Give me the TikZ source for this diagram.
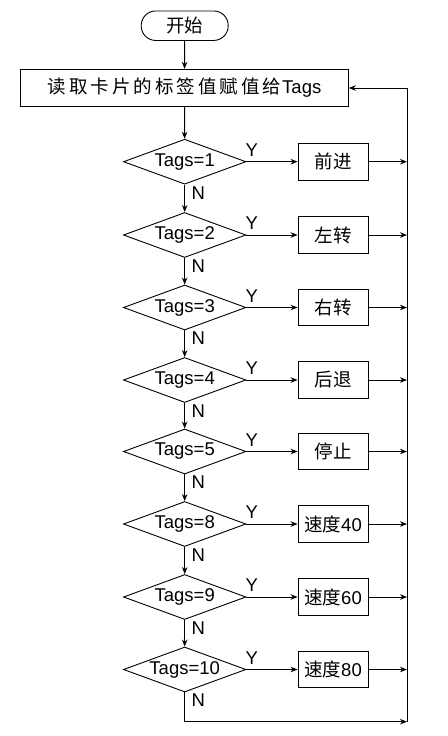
\documentclass[tikz,border=0pt]{standalone}
\usepackage{fontspec}
\setmainfont{Liberation Sans}
\newfontfamily\cjk{Noto Sans CJK SC}
\usetikzlibrary{shapes.geometric,arrows.meta}
\begin{document}
\begin{tikzpicture}[x=1pt,y=-1pt,
  line width=0.9pt,
  every node/.style={font=\fontsize{18.5}{21}\selectfont},
  arr/.style={-{Stealth[length=7pt,width=5.5pt]}},
  term/.style={draw,rounded corners=14.5pt,minimum width=87pt,minimum height=29.5pt,inner sep=0pt},
  proc/.style={draw,minimum width=327.6pt,minimum height=37.4pt,inner sep=0pt},
  dec/.style={draw,diamond,aspect=2.7,minimum width=122.5pt,minimum height=45pt,inner sep=0pt},
  act/.style={draw,minimum width=70pt,minimum height=36.6pt,inner sep=0pt},
  lab/.style={inner sep=0pt}]
\useasboundingbox (0,0) rectangle (447,736);
\node[term] (start) at (184.7,25.7) {\cjk 开始};
\node[proc] (read) at (184.5,88) {\cjk 读\hspace{3pt}取\hspace{3pt}卡\hspace{3pt}片\hspace{3pt}的\hspace{3pt}标\hspace{3pt}签\hspace{3pt}值\hspace{3pt}赋\hspace{3pt}值\hspace{3pt}给\hspace{1pt}\rmfamily Tags};
\draw[arr] (start) -- (read);
\foreach \y/\t/\b [count=\i] in {161.7/Tags=1/{\cjk 前进},235/Tags=2/{\cjk 左转},307.5/Tags=3/{\cjk 右转},380/Tags=4/{\cjk 后退},451.5/Tags=5/{\cjk 停止},524/Tags=8/{{\cjk 速度}40},597/Tags=9/{{\cjk 速度}60},669.5/Tags=10/{{\cjk 速度}80}}{
  \node[dec] (d\i) at (184.7,\y) {\t};
  \node[act] (b\i) at (333,\y) {\b};
  \coordinate (r\i) at (407,\y);
  \node[lab] (y\i) at ([shift={(5.5,-11.7)}]d\i.east) {Y};
  \node[lab] (n\i) at ([shift={(13.7,8)}]d\i.south) {N};
  \draw[arr] (d\i.east) -- (b\i.west);
  \draw[arr] (b\i.east) -- (r\i);
}
\draw[arr] (read) -- (d1);
\foreach \i [evaluate=\i as \j using int(\i+1)] in {1,...,7}{
  \draw[arr] (d\i.south) -- (d\j.north);
}
\coordinate (rb) at (407,721.7);
\coordinate (rt) at (407,88);
\draw[arr] (d8.south) |- (rb);
\draw[arr] (rb) -- (rt) -- (read.east);
\end{tikzpicture}
\end{document}
